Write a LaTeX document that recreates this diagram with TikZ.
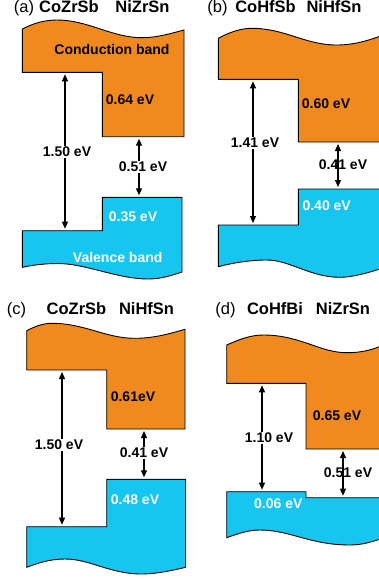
\documentclass[tikz,border=0pt]{standalone}
\usepackage{fontspec}
\setmainfont{Liberation Sans}
\usetikzlibrary{arrows.meta}
\definecolor{bandorange}{RGB}{241,138,30}
\definecolor{bandcyan}{RGB}{22,198,240}
\tikzset{
  cband/.style={fill=bandorange,draw=black,line width=0.9pt,line join=miter},
  vband/.style={fill=bandcyan,draw=black,line width=0.9pt,line join=miter},
  dimarrow/.style={line width=1.2pt,{Triangle[length=7pt,width=6pt]}-{Triangle[length=7pt,width=6pt]},shorten >=2pt,shorten <=2pt},
  vallab/.style={font=\fontsize{14}{16}\selectfont\bfseries,inner sep=0pt},
  whitelab/.style={vallab,text=white},
  gaplab/.style={vallab,fill=white,inner sep=1.2pt},
  gaplabclear/.style={vallab,inner sep=1.2pt},
  ttlreg/.style={font=\fontsize{16.5}{18}\selectfont,inner sep=0pt,anchor=base},
  ttlbold/.style={font=\fontsize{16.5}{18}\selectfont\bfseries,inner sep=0pt,anchor=base},
}
\begin{document}
\begin{tikzpicture}[x=1pt,y=-1pt]
\useasboundingbox (0,0) rectangle (379,579);

% ---------------- (a)
\node[ttlreg]  (ta0) at (24,12.7) {(a)};
\node[ttlbold] (ta1) at (69,12.7) {CoZrSb};
\node[ttlbold] (ta2) at (142.5,12.7) {NiZrSn};
\filldraw[cband] (22.3,72.3) -- (22.3,29) .. controls (34,23) and (45,20) .. (57,20)
  .. controls (88,20) and (112,37.7) .. (142,37.7) .. controls (158,37.7) and (172,33) .. (184,30)
  -- (184,136.7) -- (102.3,136.7) -- (102.3,72.3) -- cycle;
\filldraw[vband] (22.3,230.7) -- (102.3,230.7) -- (102.3,197.3) -- (182,197.3) -- (182,272)
  .. controls (170,276) and (160,279) .. (148,279) .. controls (118,279) and (85,263.5) .. (58,263.5)
  .. controls (45,263.5) and (33,265) .. (22.3,267.3) -- cycle;
\node[vallab] (a_cb) at (112,49.3) {Conduction band};
\node[vallab] (a_ce) at (130,100) {0.64 eV};
\node[whitelab] (a_ve) at (133,216.7) {0.35 eV};
\node[whitelab] (a_vb) at (117.7,257.3) {Valence band};
\coordinate (a1t) at (65,72.3);
\coordinate (a1b) at (65,230.7);
\coordinate (a2t) at (139,136.7);
\coordinate (a2b) at (139,197.3);
\draw[dimarrow] (a1t) -- (a1b);
\draw[dimarrow] (a2t) -- (a2b);
\node[gaplab] (a_g1) at (67,152) {1.50 eV};
\node[gaplab] (a_g2) at (143,167) {0.51 eV};

% ---------------- (b)
\node[ttlreg]  (tb0) at (217.5,12.7) {(b)};
\node[ttlbold] (tb1) at (265.5,12.7) {CoHfSb};
\node[ttlbold] (tb2) at (334,12.7) {NiHfSn};
\filldraw[cband] (218.3,79.3) -- (218.3,38.3) .. controls (228,33) and (240,28.3) .. (251.7,28.3)
  .. controls (285,28.3) and (305,45) .. (336.7,45) .. controls (355,45) and (370,40) .. (386,34)
  -- (386,142) -- (298.3,142) -- (298.3,79.3) -- cycle;
\filldraw[vband] (218.3,225) -- (298.3,225) -- (298.3,189) -- (386,189) -- (386,267)
  .. controls (368,273) and (352,277.3) .. (340,277.3) .. controls (310,277.3) and (290,260) .. (266.7,260)
  .. controls (250,260) and (232,263) .. (218.3,266.7) -- cycle;
\node[vallab] (b_ce) at (326,104) {0.60 eV};
\node[whitelab] (b_ve) at (326.7,205.7) {0.40 eV};
\coordinate (b1t) at (253,79.3);
\coordinate (b1b) at (253,225);
\coordinate (b2t) at (338,142);
\coordinate (b2b) at (338,189);
\draw[dimarrow] (b1t) -- (b1b);
\draw[dimarrow] (b2t) -- (b2b);
\node[gaplab] (b_g1) at (255,143) {1.41 eV};
\node[gaplabclear] (b_g2) at (343,165) {0.41 eV};

% ---------------- (c)
\node[ttlreg]  (tc0) at (16.5,314.3) {(c)};
\node[ttlbold] (tc1) at (76.5,314.3) {CoZrSb};
\node[ttlbold] (tc2) at (146.5,314.3) {NiHfSn};
\filldraw[cband] (26.7,370) -- (26.7,330.7) .. controls (34,327) and (42,323.3) .. (51.7,323.3)
  .. controls (85,323.3) and (105,338.3) .. (135,338.3) .. controls (155,338.3) and (172,333) .. (185,329.3)
  -- (185,429) -- (106.7,429) -- (106.7,370) -- cycle;
\filldraw[vband] (26.7,526.7) -- (106.7,526.7) -- (106.7,479.3) -- (185.5,479.3) -- (185.5,567.3)
  .. controls (170,571) and (155,574) .. (141.7,574) .. controls (110,574) and (90,559) .. (65,559)
  .. controls (50,559) and (38,563) .. (26.7,567.3) -- cycle;
\node[vallab] (c_ce) at (133,397) {0.61eV};
\node[whitelab] (c_ve) at (135,499.3) {0.48 eV};
\coordinate (c1t) at (62,370);
\coordinate (c1b) at (62,526.7);
\coordinate (c2t) at (144,429);
\coordinate (c2b) at (144,479.3);
\draw[dimarrow] (c1t) -- (c1b);
\draw[dimarrow] (c2t) -- (c2b);
\node[gaplab] (c_g1) at (59,445) {1.50 eV};
\node[gaplab] (c_g2) at (144,453) {0.41 eV};

% ---------------- (d)
\node[ttlreg]  (td0) at (225.5,314) {(d)};
\node[ttlbold] (td1) at (275,314) {CoHfBi};
\node[ttlbold] (td2) at (343,314) {NiZrSn};
\filldraw[cband] (226.7,383.3) -- (226.7,345) .. controls (238,340) and (250,335) .. (263.3,335)
  .. controls (300,335) and (320,352.7) .. (346.7,352.7) .. controls (362,352.7) and (372,350) .. (386,344)
  -- (386,449) -- (306,449) -- (306,383.3) -- cycle;
\filldraw[vband] (226.7,491.7) -- (306,491.7) -- (306,497.7) -- (386,497.7) -- (386,537)
  .. controls (372,542) and (362,545) .. (350,545) .. controls (310,545) and (290,530) .. (260,530)
  .. controls (248,530) and (237,534) .. (226.7,537.7) -- cycle;
\node[vallab] (d_ce) at (337,416) {0.65 eV};
\node[whitelab] (d_ve) at (278.3,503.3) {0.06 eV};
\coordinate (d1t) at (262,383.3);
\coordinate (d1b) at (262,491.7);
\coordinate (d2t) at (343,449);
\coordinate (d2b) at (343,497.7);
\draw[dimarrow] (d1t) -- (d1b);
\draw[dimarrow] (d2t) -- (d2b);
\node[gaplab] (d_g1) at (269,438) {1.10 eV};
\node[gaplabclear] (d_g2) at (348,473) {0.51 eV};
\end{tikzpicture}
\end{document}
